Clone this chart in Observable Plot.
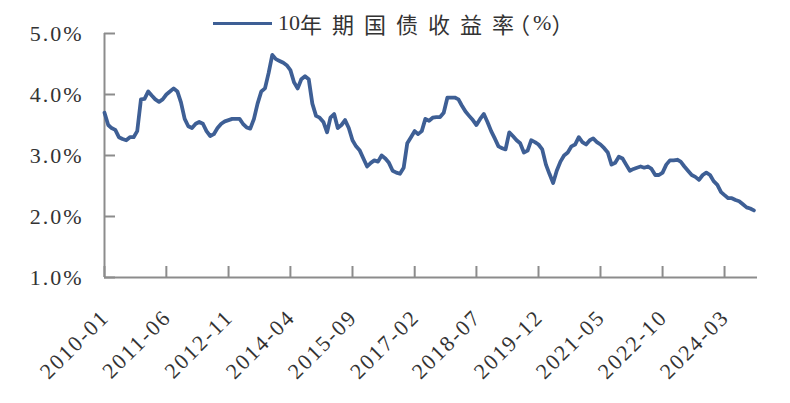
<!DOCTYPE html>
<html>
<head>
<meta charset="utf-8">
<script src="https://cdn.jsdelivr.net/npm/d3@7"></script>
<script src="https://cdn.jsdelivr.net/npm/@observablehq/plot@0.6"></script>
<style>
  html, body { margin: 0; padding: 0; background: #fff; }
  #wrap { position: relative; width: 790px; height: 403px; overflow: hidden; }
  #legend { position: absolute; left: 213px; top: 8px; height: 30px; display: flex; align-items: center; white-space: nowrap; color: #333; }
  #legend .sw { width: 59px; height: 0; border-top: 3.5px solid #3e5f95; margin-right: 6px; }
  #legend .num { font-family: "Liberation Serif", serif; font-size: 22px; }
  #legend .cjk { font-family: "Noto Sans CJK SC", sans-serif; font-size: 22px; letter-spacing: 10px; }
  #legend .cjk2 { font-family: "Noto Sans CJK SC", sans-serif; font-size: 22px; }
  #legend .par { font-family: "Noto Sans CJK SC", sans-serif; font-size: 22px; font-feature-settings: "halt"; }
  #legend .p1 { margin-left: 5px; }
  #legend .pct { font-family: "Liberation Serif", serif; font-size: 22px; margin-left: 3px; }
</style>
</head>
<body>
<div id="wrap">
  <div id="chart"></div>
  <div id="legend"><span class="sw"></span><span class="num">10</span><span class="cjk">年期国债收益</span><span class="cjk2">率</span><span class="par p1">（</span><span class="pct">%</span><span class="par">）</span></div>
</div>
<script>
// 10-year government bond yield (%), monthly
const y2010 = [3.70, 3.50, 3.45, 3.42, 3.30, 3.27, 3.25, 3.30, 3.30, 3.40, 3.92, 3.93];
const y2011 = [4.05, 3.98, 3.92, 3.88, 3.92, 4.00, 4.05, 4.10, 4.05, 3.87, 3.60, 3.48];
const y2012 = [3.45, 3.52, 3.55, 3.52, 3.40, 3.32, 3.35, 3.45, 3.52, 3.56, 3.58, 3.60];
const y2013 = [3.60, 3.60, 3.52, 3.46, 3.44, 3.60, 3.85, 4.05, 4.10, 4.35, 4.65, 4.58];
const y2014 = [4.55, 4.52, 4.48, 4.40, 4.20, 4.10, 4.25, 4.30, 4.25, 3.85, 3.65, 3.62];
const y2015 = [3.55, 3.38, 3.62, 3.68, 3.45, 3.50, 3.58, 3.45, 3.25, 3.15, 3.08, 2.95];
const y2016 = [2.82, 2.88, 2.92, 2.90, 3.00, 2.95, 2.88, 2.75, 2.72, 2.70, 2.80, 3.20];
const y2017 = [3.30, 3.40, 3.35, 3.40, 3.60, 3.57, 3.62, 3.63, 3.63, 3.70, 3.95, 3.95];
const y2018 = [3.95, 3.92, 3.82, 3.72, 3.65, 3.58, 3.50, 3.60, 3.68, 3.55, 3.40, 3.28];
const y2019 = [3.15, 3.12, 3.10, 3.38, 3.32, 3.25, 3.20, 3.05, 3.08, 3.25, 3.22, 3.18];
const y2020 = [3.10, 2.85, 2.70, 2.55, 2.75, 2.90, 3.00, 3.05, 3.15, 3.18, 3.30, 3.22];
const y2021 = [3.18, 3.25, 3.28, 3.22, 3.18, 3.12, 3.05, 2.85, 2.88, 2.98, 2.95, 2.85];
const y2022 = [2.75, 2.78, 2.80, 2.82, 2.80, 2.82, 2.78, 2.68, 2.68, 2.72, 2.85, 2.92];
const y2023 = [2.92, 2.93, 2.90, 2.82, 2.75, 2.68, 2.65, 2.60, 2.68, 2.72, 2.68, 2.58];
const y2024 = [2.52, 2.40, 2.35, 2.30, 2.30, 2.27, 2.25, 2.20, 2.15, 2.13, 2.10];

const years = [2010, 2011, 2012, 2013, 2014, 2015, 2016, 2017, 2018, 2019, 2020, 2021, 2022, 2023, 2024];
const series = [y2010, y2011, y2012, y2013, y2014, y2015, y2016, y2017, y2018, y2019, y2020, y2021, y2022, y2023, y2024];

const xTickLabels = ["2010-01", "2011-06", "2012-11", "2014-04", "2015-09", "2017-02", "2018-07", "2019-12", "2021-05", "2022-10", "2024-03"];
const yTicks = [1, 2, 3, 4, 5];

const data = [];
series.forEach((vals, i) => vals.forEach((v, m) => data.push({date: new Date(Date.UTC(years[i], m, 1)), value: v})));

const parseYM = s => { const [y, m] = s.split("-").map(Number); return new Date(Date.UTC(y, m - 1, 1)); };
const xTickDates = xTickLabels.map(parseYM);

const axisColor = "#8c8c8c";
const lineColor = "#3e5f95";
const textColor = "#333333";

const chart = Plot.plot({
  width: 790,
  height: 403,
  marginLeft: 104,
  marginRight: 33,
  marginTop: 33,
  marginBottom: 126,
  style: {fontFamily: "'Liberation Serif', serif", fontSize: "22px", color: textColor, background: "transparent", letterSpacing: "2px"},
  x: {type: "utc", domain: [new Date(Date.UTC(2010, 0, 1)), new Date(Date.UTC(2024, 11, 1))]},
  y: {domain: [1, 5]},
  marks: [
    Plot.axisY({ticks: yTicks, tickSize: 0, tickPadding: 21, tickFormat: d => d.toFixed(1) + "%", label: null, fontSize: 22, fill: textColor}),
    Plot.axisY({ticks: yTicks, tickSize: 11, text: null, label: null, dx: 11, stroke: axisColor, strokeWidth: 2}),
    Plot.axisX({ticks: xTickDates, tickSize: 11, text: null, label: null, dy: -11, stroke: axisColor, strokeWidth: 2}),
    Plot.text(xTickDates, {x: d => d, frameAnchor: "bottom", text: (d, i) => xTickLabels[i], rotate: -45, textAnchor: "end", dx: 6, dy: 41, fontSize: 22, fill: textColor}),
    Plot.ruleX([new Date(Date.UTC(2010, 0, 1))], {stroke: axisColor, strokeWidth: 2}),
    Plot.ruleY([1], {stroke: axisColor, strokeWidth: 2}),
    Plot.line(data, {x: "date", y: "value", stroke: lineColor, strokeWidth: 3.8, strokeLinejoin: "round"})
  ]
});
document.getElementById("chart").appendChild(chart);
</script>
</body>
</html>
